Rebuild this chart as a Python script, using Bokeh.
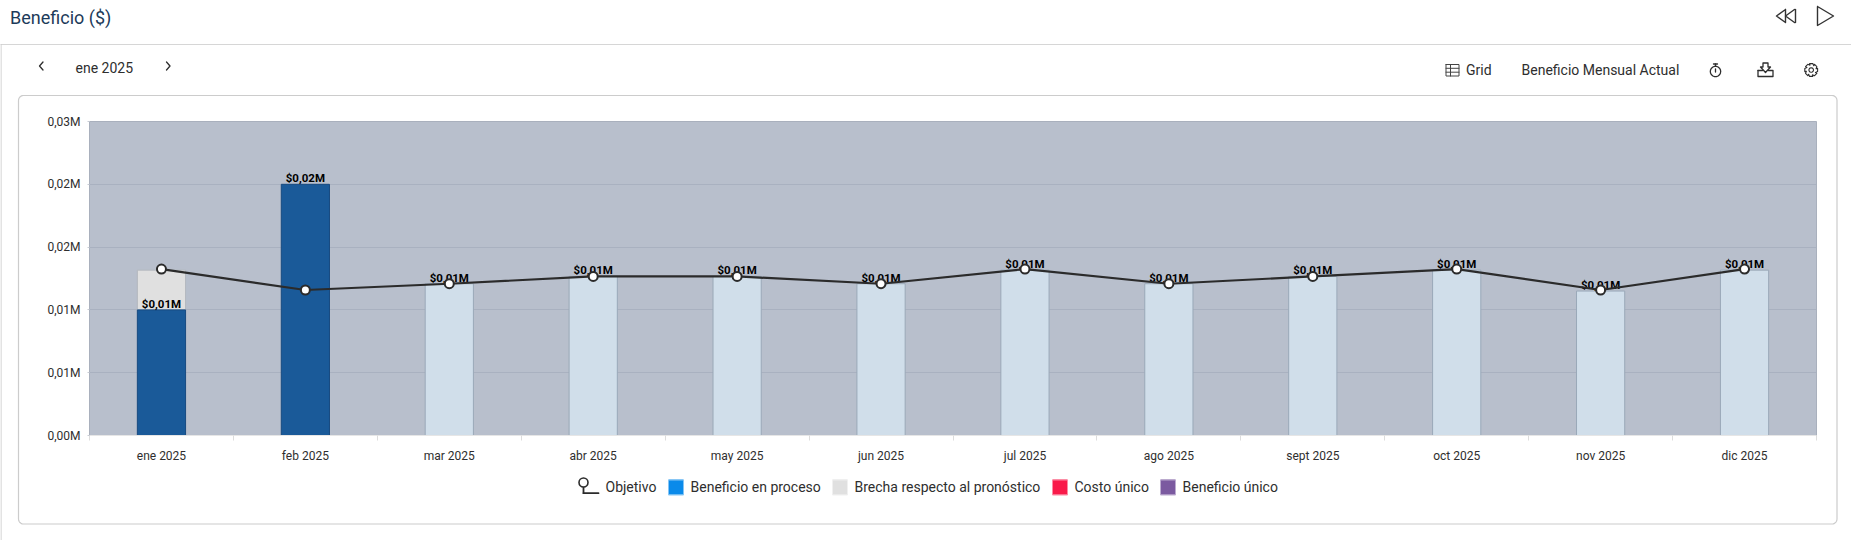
import math
from bokeh.plotting import figure
from bokeh.embed import file_html
from bokeh.resources import INLINE
from bokeh.core.properties import value
from bokeh.models import Range1d, FixedTicker

# ---- data ----
meses = ["ene 2025", "feb 2025", "mar 2025", "abr 2025", "may 2025", "jun 2025",
         "jul 2025", "ago 2025", "sept 2025", "oct 2025", "nov 2025", "dic 2025"]
beneficio_en_proceso = [0.012, 0.024, 0, 0, 0, 0, 0, 0, 0, 0, 0, 0]
brecha_pronostico = [0.0038, 0, 0, 0, 0, 0, 0, 0, 0, 0, 0, 0]
pronostico = [0, 0, 0.0145, 0.0152, 0.0152, 0.0145, 0.0158, 0.0145, 0.0152, 0.0158, 0.0138, 0.0158]
objetivo = [0.0159, 0.0139, 0.0145, 0.0152, 0.0152, 0.0145, 0.0159, 0.0145, 0.0152, 0.0159, 0.0139, 0.0159]
costo_unico = [0] * 12
beneficio_unico = [0] * 12
etiquetas = ["$0,01M", "$0,02M", "$0,01M", "$0,01M", "$0,01M", "$0,01M",
             "$0,01M", "$0,01M", "$0,01M", "$0,01M", "$0,01M", "$0,01M"]
y_ticks = [0, 0.006, 0.012, 0.018, 0.024, 0.03]
y_tick_labels = ["0,00M", "0,01M", "0,01M", "0,02M", "0,02M", "0,03M"]

W, H = 1851, 541
FONT = value("Roboto")
INK = "#2e2e2e"

# ---- page chrome (drawn in page pixels, behind the chart) ----
c = figure(width=W, height=H, output_backend="svg", toolbar_location=None,
           x_range=Range1d(0, W), y_range=Range1d(H, 0), min_border=0,
           x_axis_type=None, y_axis_type=None, outline_line_color=None)
c.grid.visible = False
c.styles = {"position": "absolute", "left": "0px", "top": "-1px"}


def stroke(pts, color=INK, w=1.3):
    c.line([q[0] for q in pts], [q[1] for q in pts], line_color=color, line_width=w,
           line_join="round", line_cap="round")


def label(x, y, s, size="14px", color=INK, align="left"):
    c.text([x], [y], text=[s], text_font=FONT, text_font_size=size, text_color=color,
           text_align=align, text_baseline="middle")


# frame lines
stroke([(0, 45), (W, 45)], "#d6d6d6", 1)
stroke([(0.5, 45), (0.5, H + 1)], "#c8c8c8", 1)

# card
L, T, R, B, r = 18, 96, 1836.5, 524.5, 5
path = []
for cx, cy, a0 in [(L + r, T + r, 180), (R - r, T + r, 270), (R - r, B - r, 0), (L + r, B - r, 90)]:
    for k in range(7):
        a = math.radians(a0 + k * 15)
        path.append((cx + r * math.cos(a), cy + r * math.sin(a)))
path.append(path[0])
stroke(path, "#cccccc", 1.2)

# header
label(9.5, 17.5, "Beneficio ($)", "18px", "#1d3b5a")
label(75, 68.5, "ene 2025", "14px")
label(1465.5, 70.5, "Grid", "14px")
label(1521, 70.5, "Beneficio Mensual Actual", "14px")

# chevrons
stroke([(42.5, 62.5), (39, 66.5), (42.5, 70.5)])
stroke([(166, 62.5), (169.5, 66.5), (166, 70.5)])

# rewind + play
stroke([(1785, 10), (1776, 16.5), (1785, 23), (1785, 10)], "#333333", 1.4)
stroke([(1794, 10), (1785, 16.5), (1794, 23)], "#333333", 1.4)
stroke([(1795, 10), (1795, 23)], "#333333", 1.4)
stroke([(1817, 7), (1833, 16.5), (1817, 26), (1817, 7)], "#333333", 1.4)

# grid icon
stroke([(1445.5, 65), (1458.5, 65), (1458.5, 76.5), (1445.5, 76.5), (1445.5, 65)], "#444444", 1)
stroke([(1445.5, 68.8), (1458.5, 68.8)], "#444444", 1)
stroke([(1445.5, 72.7), (1458.5, 72.7)], "#444444", 1)
stroke([(1450, 65), (1450, 76.5)], "#444444", 1)

# stopwatch
ring = [(1715 + 5.2 * math.cos(math.radians(a)), 72 + 5.2 * math.sin(math.radians(a))) for a in range(0, 361, 20)]
stroke(ring)
stroke([(1713, 64.5), (1717, 64.5)])
stroke([(1715, 64.5), (1715, 66.5)])
stroke([(1715, 69.5), (1715, 72.5)])

# download
stroke([(1757.5, 71), (1757.5, 77), (1772.5, 77), (1772.5, 71), (1768, 71)])
stroke([(1757.5, 71), (1762, 71)])
stroke([(1762.5, 63.5), (1767.5, 63.5), (1767.5, 67.5), (1770, 67.5), (1765, 73), (1760, 67.5), (1762.5, 67.5), (1762.5, 63.5)])

# gear
gear = []
for k in range(8):
    a = k * 45
    for da, rad in [(-14, 6.6), (14, 6.6), (31, 5)]:
        t = math.radians(a + da)
        gear.append((1810.7 + rad * math.cos(t), 70.5 + rad * math.sin(t)))
gear.append(gear[0])
stroke(gear, INK, 1.1)
ring2 = [(1810.7 + 2.3 * math.cos(math.radians(a)), 70.5 + 2.3 * math.sin(math.radians(a))) for a in range(0, 361, 30)]
stroke(ring2, INK, 1.1)

# legend
stroke([(583, 493.7), (598, 493.7)], "#2b2b2b", 1.8)
stroke([(583, 493.7), (583, 486)], "#2b2b2b", 1.8)
c.scatter([583], [483], size=9, marker="circle", fill_color="white", line_color="#2b2b2b", line_width=1.6)
label(605, 487.5, "Objetivo", "14px")
for x0, s, fill, edge in [(668, "Beneficio en proceso", "#0a8aea", "#8cc8f4"),
                          (832, "Brecha respecto al pronóstico", "#e0e0e0", "#eeeeee"),
                          (1052, "Costo único", "#f91a4a", "#fb8ca4"),
                          (1160, "Beneficio único", "#7b5aa0", "#b9a7cd")]:
    c.quad(left=[x0], right=[x0 + 15], top=[480], bottom=[495.7], fill_color=fill, line_color=None)
    c.line([x0, x0 + 15], [480.5, 480.5], line_color=edge, line_width=1)
    c.line([x0, x0 + 15], [495.2, 495.2], line_color=edge, line_width=1)
    label(x0 + 22, 487.5, s, "14px")

# ---- chart ----
LEFT, RIGHT, TOP, BOTTOM = 89, 1816, 122, 436
n = len(meses)
xs = [i + 0.5 for i in range(n)]

p = figure(width=W, height=H, output_backend="svg", toolbar_location=None,
           x_range=Range1d(0, n), y_range=Range1d(0, 0.03),
           min_border_left=LEFT, min_border_right=W - RIGHT,
           min_border_top=TOP, min_border_bottom=H - BOTTOM,
           background_fill_color="#b8bfcc", border_fill_color=None,
           outline_line_color="#a9b0bd")
p.styles = {"position": "absolute", "left": "0px", "top": "-1px"}

p.xgrid.visible = False
p.ygrid.ticker = FixedTicker(ticks=y_ticks)
p.ygrid.grid_line_color = "#a9b1c0"
p.ygrid.grid_line_width = 1

p.yaxis.ticker = FixedTicker(ticks=y_ticks)
p.yaxis.major_label_overrides = dict(zip(y_ticks, y_tick_labels))
p.yaxis.axis_line_color = None
p.yaxis.minor_tick_line_color = None
p.yaxis.major_tick_line_color = "#c8ccd4"
p.yaxis.major_tick_in = 0
p.yaxis.major_tick_out = 2
p.yaxis.major_label_standoff = 7
p.yaxis.major_label_text_font = "Roboto"
p.yaxis.major_label_text_font_size = "12px"
p.yaxis.major_label_text_color = INK

p.xaxis.ticker = FixedTicker(ticks=xs, minor_ticks=list(range(n + 1)))
p.xaxis.major_label_overrides = dict(zip(xs, meses))
p.xaxis.axis_line_color = "#e6e6e6"
p.xaxis.major_tick_line_color = None
p.xaxis.major_tick_in = 0
p.xaxis.major_tick_out = 0
p.xaxis.minor_tick_in = 0
p.xaxis.minor_tick_out = 5
p.xaxis.minor_tick_line_color = "#dddddd"
p.xaxis.major_label_standoff = 8
p.xaxis.major_label_text_font = "Roboto"
p.xaxis.major_label_text_font_size = "12px"
p.xaxis.major_label_text_color = INK


def bars(bottom, top, fill, line):
    rows = [(x, b, t) for x, b, t in zip(xs, bottom, top) if t > b]
    return p.vbar(x=[q[0] for q in rows], bottom=[q[1] for q in rows], top=[q[2] for q in rows],
                  width=0.335, fill_color=fill, line_color=line, line_width=1)


zeros = [0] * n
bars(zeros, pronostico, "#d0deea", "#9aa8b8")
bars(beneficio_en_proceso, [a + b for a, b in zip(beneficio_en_proceso, brecha_pronostico)], "#e0e0e0", "#b4b8be")
bars(zeros, beneficio_en_proceso, "#1a5a99", "#174a80")
bars(zeros, costo_unico, "#f91a4a", None)
bars(zeros, beneficio_unico, "#7b5aa0", None)

# labels sit on top of the actual / forecast bar
label_y = [a or f for a, f in zip(beneficio_en_proceso, pronostico)]
p.text(xs, label_y, text=etiquetas, text_font=FONT, text_font_style="bold", text_font_size="11.5px",
       text_color="#000000", text_align="center", text_baseline="bottom", y_offset=1)

p.line(xs, objetivo, line_color="#2b2b2b", line_width=2.2)
p.scatter(xs, objetivo, size=9, marker="circle", fill_color="white", line_color="#2b2b2b", line_width=2)

open("out.html", "w").write(file_html([c, p], INLINE))
